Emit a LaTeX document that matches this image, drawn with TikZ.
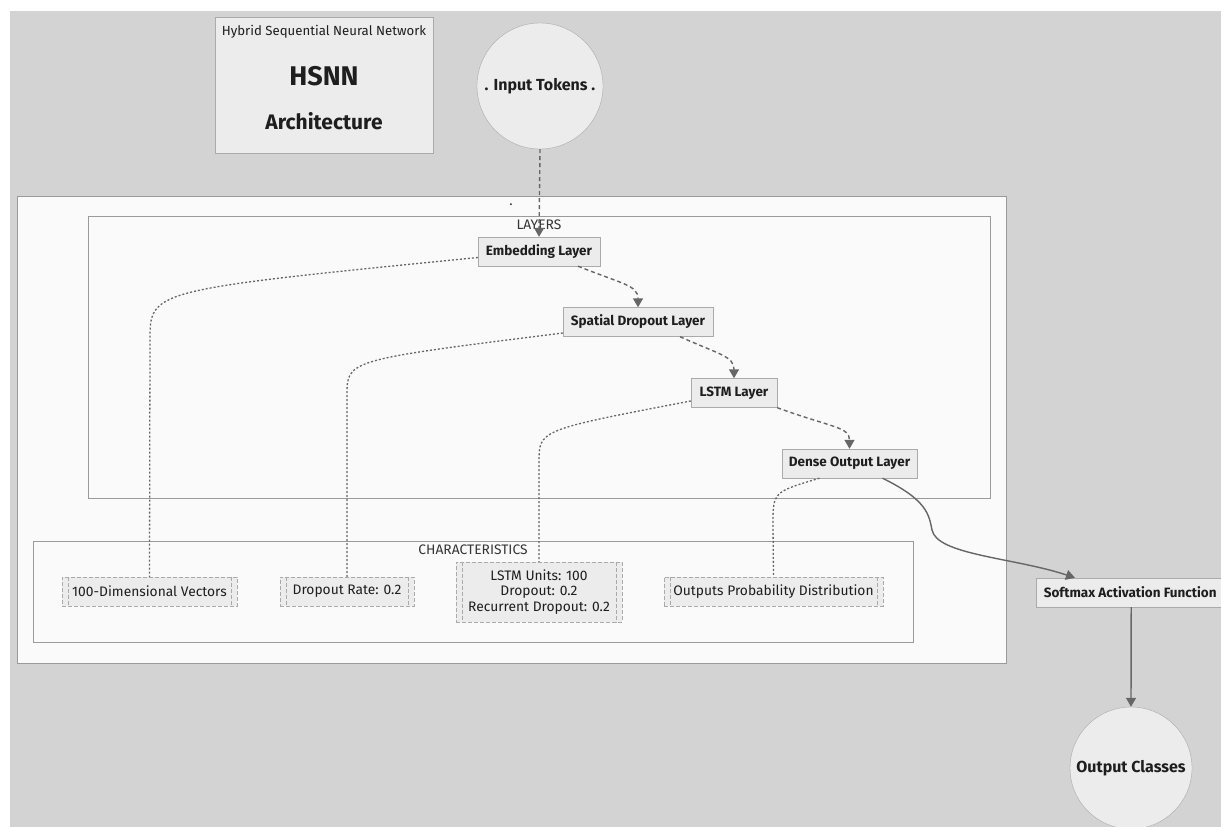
\documentclass[tikz,border=0pt]{standalone}
\usepackage{fontspec}
\setmainfont{Fira Sans}
\usetikzlibrary{arrows.meta}
\definecolor{bg}{HTML}{D3D3D3}
\definecolor{boxfill}{HTML}{FAFAFA}
\definecolor{boxline}{HTML}{9A9A9A}
\definecolor{nodefill}{HTML}{ECECEC}
\definecolor{nodeline}{HTML}{AAAAAA}
\definecolor{edge}{HTML}{666666}
\definecolor{txt}{HTML}{1E1E1E}
\tikzset{
  proc/.style={draw=nodeline, fill=nodefill, text=txt, font=\bfseries\fontsize{13.5}{16}\selectfont, minimum height=29pt, inner sep=0pt},
  charbox/.style={draw=nodeline, dash pattern=on 4pt off 2pt, fill=nodefill, text=txt, font=\fontsize{13.8}{15.5}\selectfont, minimum height=29pt, inner sep=0pt, align=center},
  circ/.style={circle, draw=nodeline, fill=nodefill, text=txt, font=\bfseries\fontsize{16}{19}\selectfont, inner sep=0pt},
  grp/.style={draw=boxline, fill=boxfill, line width=0.9pt},
  grplabel/.style={text=txt!90, font=\fontsize{13.8}{16}\selectfont, inner sep=0pt},
  flow/.style={draw=edge, line width=1.4pt, -{Triangle[length=9pt,width=10pt]}},
  flowdash/.style={flow, dash pattern=on 4pt off 3pt},
  link/.style={draw=edge, line width=1.3pt, dash pattern=on 2pt off 2pt},
}
\begin{document}
\begin{tikzpicture}[x=1pt,y=-1pt]
\useasboundingbox (0,0) rectangle (1221,827);
\clip (0,0) rectangle (1221,827);
\fill[bg] (10,11) rectangle (1230,840);
% groups
\draw[grp] (17,196) rectangle (1006,663);
\node[grplabel] (outerlbl) at (511,205) {.};
\draw[grp] (88,216) rectangle (990,498);
\node[grplabel] (layerslbl) at (539,225) {LAYERS};
\draw[grp] (33,541) rectangle (913,642);
\node[grplabel] (charlbl) at (473,550) {CHARACTERISTICS};
% title
\node[draw=nodeline, fill=nodefill, minimum width=218pt, minimum height=136pt, inner sep=0pt] (title) at (324,85) {};
\node[text=txt, font=\fontsize{13.2}{15}\selectfont] (t1) at (324,32) {Hybrid Sequential Neural Network};
\node[text=txt, font=\bfseries\fontsize{27}{30}\selectfont] (t2) at (324,76) {HSNN};
\node[text=txt, font=\bfseries\fontsize{21}{24}\selectfont] (t3) at (324,121) {Architecture};
% circles
\node[circ, minimum size=126pt] (input) at (540,86) {. Input Tokens .};
\node[circ, minimum size=122pt] (output) at (1131,768) {Output Classes};
% layer nodes
\node[proc, minimum width=122pt] (emb) at (539,251.5) {Embedding Layer};
\node[proc, minimum width=150pt] (spd) at (638,322) {Spatial Dropout Layer};
\node[proc, minimum width=86pt] (lstm) at (734,393) {LSTM Layer};
\node[proc, minimum width=135pt] (dense) at (849.5,463.5) {Dense Output Layer};
\node[proc, minimum width=192pt, anchor=west] (soft) at (1036,592.5) {\hspace*{-4pt}Softmax Activation Function};
% characteristics
\node[charbox, minimum width=175pt] (c1) at (149.5,591.5) {100-Dimensional Vectors};
\node[charbox, minimum width=134pt] (c2) at (347,591.5) {Dropout Rate: 0.2};
\node[charbox, minimum width=166pt, minimum height=60pt] (c3) at (539,592) {LSTM Units: 100\\Dropout: 0.2\\Recurrent Dropout: 0.2};
\node[charbox, minimum width=219pt] (c4) at (773.5,591.5) {Outputs Probability Distribution};
\foreach \n in {c1,c2,c3,c4}{
  \draw[draw=nodeline, dash pattern=on 4pt off 2pt] ([xshift=6pt]\n.north west) -- ([xshift=6pt]\n.south west);
  \draw[draw=nodeline, dash pattern=on 4pt off 2pt] ([xshift=-6pt]\n.north east) -- ([xshift=-6pt]\n.south east);
}
% flow edges
\draw[flowdash] (input.south) -- (emb.north);
\draw[flowdash] ([xshift=39pt]emb.south) .. controls +(45,18) and +(0,-22) .. (spd.north);
\draw[flowdash] ([xshift=42pt]spd.south) .. controls +(40,18) and +(0,-22) .. (lstm.north);
\draw[flowdash] (lstm.south east) .. controls +(55,20) and +(0,-22) .. (dense.north);
\draw[flow] ([xshift=33pt]dense.south) .. controls +(45,22) and +(-3,-15) .. (932,530) .. controls +(5,25) and +(-60,-20) .. ([xshift=39pt]soft.north west);
\draw[flow] ([xshift=-1pt]soft.south) -- (output.north);
% characteristic links
\coordinate (k1) at (150,340);
\coordinate (k2) at (347,395);
\coordinate (k3) at (539,462);
\coordinate (k4) at (773,525);
\draw[link] ([yshift=-6pt]emb.west) .. controls (150,290) .. (k1) -- (c1.north);
\draw[link] ([yshift=-11pt]spd.west) .. controls (347,360) .. (k2) -- (c2.north);
\draw[link] ([yshift=-8pt]lstm.west) .. controls (539,430) .. (k3) -- (c3.north);
\draw[link] ([xshift=-30pt]dense.south) .. controls (773,492) .. (k4) -- (c4.north);
\end{tikzpicture}
\end{document}
